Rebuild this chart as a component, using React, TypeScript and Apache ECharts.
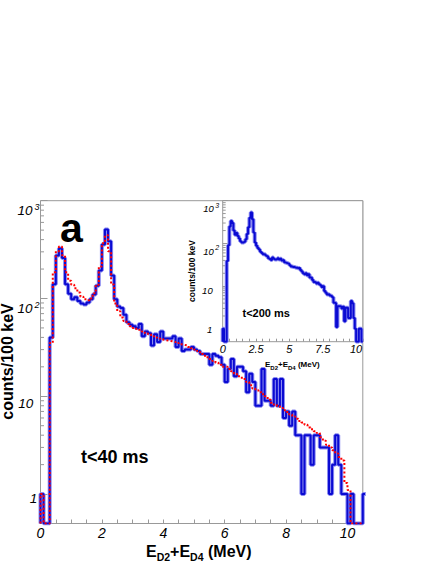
import React, { useEffect, useRef } from "react";
import * as echarts from "echarts";

// ---------- data ----------
const BIN_WIDTH = 0.1; // MeV (counts/100 keV)
const AXIS_MIN = 0.5;
const AXIS_MAX = 1000;
const X_MAX = 10.5;

// t<40 ms measured spectrum, one value per 0.1 MeV bin starting at 0 MeV (last bin = overflow)
const mainMeasured = [
  1, 0, 0, 40, 140, 275, 325, 260, 140, 112,
  98, 103, 94, 89, 87, 91, 98, 110, 135, 193,
  357, 507, 385, 172, 98, 83, 80, 68, 57, 54,
  52, 50, 55, 41, 46, 44, 33, 43, 36, 46,
  39, 39, 39, 41, 32, 39, 29, 30, 30, 32,
  30, 29, 27, 27, 27, 21, 27, 26, 25, 21,
  14, 19, 24, 16, 20, 20, 18, 11, 17, 14,
  8, 8, 19, 9, 9, 8, 15, 8, 15, 6,
  7, 5, 7, 4, 4, 1, 4, 4, 2, 4,
  4, 3, 3, 3, 1, 2, 4, 2, 1, 1,
  0, 1, 0, 0, 0, 1,
];

// t<40 ms simulation (red dotted)
const mainSimulated = [
  1, 0, 0, 35, 185, 305, 340, 277, 185, 152,
  138, 127, 115, 104, 98, 96, 100, 113, 138, 212,
  368, 442, 304, 139, 89, 74, 64, 59, 55, 52,
  50, 49, 48, 46, 44, 43, 41, 40, 39, 38,
  37.5, 37, 36.5, 36, 35, 34, 33.5, 33, 32, 31,
  30, 29, 27, 26, 25, 24, 23, 22, 21, 20,
  20, 19, 18, 17, 16, 15.5, 15, 14, 13, 12,
  11.5, 11, 10.5, 10, 9.2, 8.6, 8.2, 7.9, 7.6, 7.2,
  6.9, 6.5, 6.2, 5.9, 5.6, 5.4, 5.1, 4.8, 4.6, 4.4,
  4.2, 3.8, 3.5, 3.2, 3.0, 2.8, 2.6, 2.4, 2.2, 1.3,
  1.1, 0, 0, 0, 0,
];

// t<200 ms spectrum (inset)
const insetMeasured = [
  1, 0, 0, 39, 90, 250, 335, 300, 200, 160,
  175, 150, 130, 112, 105, 105, 110, 125, 165, 240,
  400, 530, 370, 180, 105, 88, 78, 72, 64, 60,
  56, 55, 52, 50, 45, 43, 41, 47, 44, 42,
  43, 45, 42, 44, 40, 41, 36, 35, 34, 33,
  31, 29, 28, 28, 27, 27, 26, 27, 24, 22,
  20, 19, 20, 18, 19, 16, 15.5, 14, 12.5, 12.4,
  11.5, 12, 11, 10.5, 9.5, 10, 7.7, 7, 6.4, 6.5,
  6, 5.8, 5.5, 4.1, 4, 1.1, 3.4, 3.4, 3.3, 3,
  3.3, 1.5, 3.1, 3.1, 1.8, 1.8, 4.5, 4, 1.8, 1,
  0, 0, 1, 1, 0,
];

// tick labels
const mainXLabels = [0, 2, 4, 6, 8, 10];
const insetXLabels = [0, 2.5, 5, 7.5, 10];
const yDecades = [1, 10, 100, 1000];

const FONT = "Liberation Sans";
const FRAME = "#999999";

function minorLogTicks(): number[] {
  const out: number[] = [];
  for (const d of [0.1, 1, 10, 100]) {
    for (let k = 2; k <= 9; k++) {
      const v = +(k * d).toFixed(3);
      if (v > AXIS_MIN && v < AXIS_MAX) out.push(v);
    }
  }
  return out;
}

function toSteps(values: number[]) {
  const pts: number[][] = [[0, AXIS_MIN]];
  values.forEach((v, i) => pts.push([i * BIN_WIDTH, Math.max(v, AXIS_MIN)]));
  pts.push([values.length * BIN_WIDTH, Math.max(values[values.length - 1], AXIS_MIN)]);
  return pts;
}

function hasLabel(list: number[], v: number) {
  return list.some((l) => Math.abs(l - v) < 1e-6);
}

function yFormatter(v: number) {
  if (!hasLabel(yDecades, v)) return "";
  const e = Math.round(Math.log10(v));
  if (e >= 2) return `{m|10}{s|${e}}`;
  if (e === 1) return "{t|10}";
  return "{o|1}";
}

function richY(fs: number, sfs: number, padM: number, padS: number, gapS: number, padT: number[], padO: number[]) {
  const base = { fontSize: fs, lineHeight: fs + 0.5, fontStyle: "italic", fontFamily: FONT, color: "#000", verticalAlign: "top" };
  return {
    m: { ...base, padding: [padM, 0, 0, 0] },
    s: { fontSize: sfs, lineHeight: sfs, fontStyle: "italic", fontFamily: FONT, color: "#000", verticalAlign: "top", padding: [padS, 0, 0, gapS] },
    t: { ...base, padding: [padT[0], padT[1], 0, 0] },
    o: { ...base, padding: [padO[0], padO[1], 0, 0] },
  };
}

function tickSeries(axisIndex: number, len: number) {
  return {
    type: "custom",
    xAxisIndex: axisIndex,
    yAxisIndex: axisIndex,
    silent: true,
    clip: false,
    z: axisIndex === 0 ? 1 : 6,
    data: minorLogTicks().map((v) => [0, v]),
    renderItem: (_p: any, api: any) => {
      const pt = api.coord([api.value(0), api.value(1)]);
      return {
        type: "line",
        shape: { x1: pt[0], y1: pt[1], x2: pt[0] + len, y2: pt[1] },
        style: { stroke: FRAME, lineWidth: 1 },
      };
    },
  };
}

function histSeries(axisIndex: number, values: number[], z: number) {
  const data = toSteps(values);
  return [
    {
      type: "line", xAxisIndex: axisIndex, yAxisIndex: axisIndex, data, step: "end",
      showSymbol: false, symbol: "none", silent: true, clip: true, z,
      lineStyle: { color: "#8c8cf0", width: 4 },
    },
    {
      type: "line", xAxisIndex: axisIndex, yAxisIndex: axisIndex, data, step: "end",
      showSymbol: false, symbol: "none", silent: true, clip: true, z: z + 0.1,
      lineStyle: { color: "#0a0ad2", width: 2 },
    },
  ];
}

function subTitle(fs: number, sfs: number, pad: number) {
  const b = { fontSize: fs, lineHeight: fs, fontWeight: "bold", fontFamily: FONT, fill: "#000", color: "#000", verticalAlign: "top" };
  const s = { fontSize: sfs, lineHeight: sfs, fontWeight: "bold", fontFamily: FONT, fill: "#000", color: "#000", verticalAlign: "top", padding: [pad, 0, 0, 0] };
  return { b, s };
}

export default function App() {
  const ref = useRef<HTMLDivElement>(null);

  useEffect(() => {
    if (!ref.current) return;
    const chart = echarts.init(ref.current, null, { renderer: "svg" });

    const xAxisBase = (grid: number, labels: number[], fs: number, tickLen: number) => ({
      gridIndex: grid,
      type: "value",
      min: 0,
      max: X_MAX,
      interval: 0.5,
      axisLine: { show: false },
      splitLine: { show: false },
      axisTick: { show: true, inside: true, length: tickLen, lineStyle: { color: FRAME, width: 1 } },
      axisLabel: {
        formatter: (v: number) => (hasLabel(labels, v) ? String(v) : ""),
        fontSize: fs,
        fontStyle: "italic",
        fontFamily: FONT,
        color: "#000",
        margin: 2,
        showMinLabel: true,
        showMaxLabel: true,
      },
      z: grid === 0 ? 0 : 4,
    });

    const option: any = {
      animation: false,
      backgroundColor: "#ffffff",
      grid: [
        { left: 40.5, top: 200.7, width: 322.3, height: 322.8, show: true, borderColor: FRAME, borderWidth: 1, backgroundColor: "transparent", z: 0 },
        { left: 222.7, top: 200.7, width: 140.1, height: 141, show: true, borderColor: FRAME, borderWidth: 1, backgroundColor: "#ffffff", z: 3 },
      ],
      xAxis: [xAxisBase(0, mainXLabels, 14, 4), xAxisBase(1, insetXLabels, 11, 3)],
      yAxis: [
        {
          gridIndex: 0, type: "log", logBase: 10, min: AXIS_MIN, max: AXIS_MAX,
          axisLine: { show: false }, splitLine: { show: false },
          axisTick: { show: true, inside: true, length: 7, lineStyle: { color: FRAME } },
          axisLabel: { showMinLabel: false, formatter: yFormatter, margin: 1, rich: richY(13.5, 9, 10, 9, 2, [7, 6.2], [4, 2.2]) },
          z: 0,
        },
        {
          gridIndex: 1, type: "log", logBase: 10, min: AXIS_MIN, max: AXIS_MAX,
          axisLine: { show: false }, splitLine: { show: false },
          axisTick: { show: true, inside: true, length: 5, lineStyle: { color: FRAME } },
          axisLabel: { showMinLabel: false, formatter: yFormatter, margin: 3.5, rich: richY(9.5, 7, 8, 6, 1.5, [4, 6.5], [1, 7]) },
          z: 4,
        },
      ],
      series: [
        tickSeries(0, 3.5),
        ...histSeries(0, mainMeasured, 2),
        {
          type: "line", xAxisIndex: 0, yAxisIndex: 0, data: toSteps(mainSimulated), step: "end",
          showSymbol: false, symbol: "none", silent: true, clip: true, z: 3,
          lineStyle: { color: "#ff0000", width: 2, type: [2, 2.2] },
        },
        tickSeries(1, 3),
        ...histSeries(1, insetMeasured, 7),
      ],
      graphic: [
        {
          type: "text", x: 60, y: 227.6, z: 10,
          style: { text: "a", fontSize: 41, fontWeight: "bold", fontFamily: FONT, fill: "#000", align: "left", verticalAlign: "middle" },
        },
        {
          type: "text", x: 81, y: 457, z: 10,
          style: { text: "t<40 ms", fontSize: 18, fontWeight: "bold", fontFamily: FONT, fill: "#000", align: "left", verticalAlign: "middle" },
        },
        {
          type: "text", x: 242.5, y: 312.6, z: 10,
          style: { text: "t<200 ms", fontSize: 11, fontWeight: "bold", fontFamily: FONT, fill: "#000", align: "left", verticalAlign: "middle" },
        },
        {
          type: "text", x: 7, y: 361.5, rotation: Math.PI / 2, z: 10,
          style: { text: "counts/100 keV", fontSize: 16, fontWeight: "bold", fontFamily: FONT, fill: "#000", align: "center", verticalAlign: "middle" },
        },
        {
          type: "text", x: 192, y: 271, rotation: Math.PI / 2, z: 10,
          style: { text: "counts/100 keV", fontSize: 8.5, fontWeight: "bold", fontFamily: FONT, fill: "#000", align: "center", verticalAlign: "middle" },
        },
        {
          type: "text", x: 146, y: 543, z: 10,
          style: {
            text: "{b|E}{s|D2}{b|+E}{s|D4}{b| (MeV)}",
            fontSize: 16, fontWeight: "bold", fontFamily: FONT, fill: "#000", align: "left", verticalAlign: "top",
            rich: subTitle(16, 10.5, 8.5),
          },
        },
        {
          type: "text", x: 265, y: 360.5, z: 10,
          style: {
            text: "{b|E}{s|D2}{b|+E}{s|D4}{b| (MeV)}",
            fontSize: 8, fontWeight: "bold", fontFamily: FONT, fill: "#000", align: "left", verticalAlign: "top",
            rich: subTitle(8, 6, 4),
          },
        },
        {
          type: "group", z: 10,
          children: [
            { type: "line", shape: { x1: 235.8, y1: 257, x2: 235.8, y2: 250 }, style: { stroke: "#000", lineWidth: 1.3 } },
            { type: "polygon", shape: { points: [[233.4, 251.5], [235.8, 246.5], [238.2, 251.5]] }, style: { fill: "#000" } },
          ],
        },
      ],
    };

    chart.setOption(option);
    return () => chart.dispose();
  }, []);

  return (
    <div
      ref={ref}
      style={{ position: "absolute", left: 0, top: 0, width: 436, height: 564, background: "#fff" }}
    />
  );
}
